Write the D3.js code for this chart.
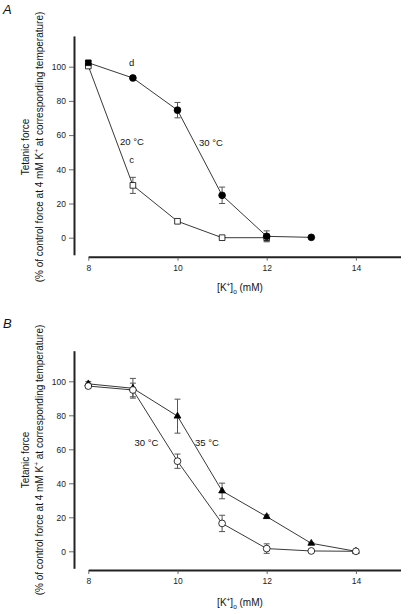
<!DOCTYPE html>
<html>
<head>
<meta charset="utf-8">
<script src="https://cdn.jsdelivr.net/npm/d3@7"></script>
<style>
html,body{margin:0;padding:0;background:#fff;}
svg{display:block;}
.tick text{font-family:"Liberation Sans Narrow","Arial Narrow","Liberation Sans",Arial,sans-serif;font-size:8.5px;fill:#222;}
</style>
</head>
<body>
<svg id="chart" width="409" height="614"></svg>
<script>
// ---- Data ----
const xTicks = [8, 10, 12, 14];
const yTicks = [0, 20, 40, 60, 80, 100];

// Panel A
const kA30 = [8, 9, 10, 11, 12, 13];
const forceA30 = [102.3, 93.4, 74.6, 24.8, 0.8, 0.2];
const errA30 = [1, 0, 4.5, 4.8, 3.2, 0];
const symA30 = ["square", "circle", "circle", "circle", "circle", "circle"];
const kA20 = [8, 9, 10, 11, 12];
const forceA20 = [100.4, 30.6, 9.6, 0, 0];
const errA20 = [0, 4.7, 0, 0, 2];

// Panel B
const kB = [8, 9, 10, 11, 12, 13, 14];
const forceB35 = [98.5, 95.9, 79.5, 35.5, 20.4, 4.7, 0];
const errB35 = [1.3, 5.8, 10, 4.6, 1, 0.5, 0];
const forceB30 = [97.2, 94.9, 53, 16.4, 1.6, 0.2, 0];
const errB30 = [1, 4, 4.2, 4.8, 2.8, 0, 0];

const yTitle1 = "Tetanic force";
const xTitleMain = "[K";
const panels = [
  {
    letter: "A", letterY: 14, top: 36.3, zeroY: 237.7, bottom: 254.8, xAxisY: 256.7,
    series: [
      {k: kA20, v: forceA20, e: errA20, sym: kA20.map(() => "square"), fill: "#fff"},
      {k: kA30, v: forceA30, e: errA30, sym: symA30, fill: "#000"}
    ],
    notes: [
      {t: "d", x: 131.7, y: 66},
      {t: "20 °C", x: 132, y: 145},
      {t: "c", x: 131.7, y: 163},
      {t: "30 °C", x: 211, y: 146}
    ],
    titleCY: 147, xTitleY: 291
  },
  {
    letter: "B", letterY: 328, top: 350.7, zeroY: 551.3, bottom: 568.3, xAxisY: 570,
    series: [
      {k: kB, v: forceB35, e: errB35, sym: kB.map(() => "triangle"), fill: "#000"},
      {k: kB, v: forceB30, e: errB30, sym: kB.map(() => "circle"), fill: "#fff"}
    ],
    notes: [
      {t: "30 °C", x: 146.5, y: 446},
      {t: "35 °C", x: 207, y: 446}
    ],
    titleCY: 460, xTitleY: 606
  }
];

const svg = d3.select("#chart");
const sans = "'Liberation Sans', Arial, sans-serif";
const narrow = "'Liberation Sans Narrow','Arial Narrow','Liberation Sans',Arial,sans-serif";

panels.forEach(p => {
  const g = svg.append("g");
  const pxPerUnit = (p.bottom - p.zeroY) / 10;
  const y = d3.scaleLinear().domain([-10, 118]).range([p.zeroY + 10 * pxPerUnit, p.zeroY - 118 * pxPerUnit]);
  const x = d3.scaleLinear().domain([8, 15]).range([88.3, 400.5]);

  // letter
  g.append("text").attr("x", 3).attr("y", p.letterY)
    .attr("font-family", sans).attr("font-style", "italic").attr("font-size", 13)
    .attr("fill", "#111").text(p.letter);

  // y axis
  const ya = g.append("g").attr("transform", "translate(74,0)")
    .call(d3.axisLeft(y).tickValues(yTicks).tickFormat(d3.format("d")).tickSize(5).tickSizeOuter(0).tickPadding(3));
  ya.select(".domain").attr("stroke", "#222").attr("stroke-width", 2);
  ya.selectAll(".tick line").attr("stroke", "#444").attr("stroke-width", 0.8);

  // x axis
  const xa = g.append("g").attr("transform", `translate(0,${p.xAxisY})`)
    .call(d3.axisBottom(x).tickValues(xTicks).tickFormat(d3.format("d")).tickSize(4).tickSizeOuter(0).tickPadding(4));
  xa.select(".domain").attr("stroke", "#222").attr("stroke-width", 2);
  xa.selectAll(".tick line").attr("stroke", "#444").attr("stroke-width", 0.8);

  // y title
  const tg = g.append("g").attr("transform", `translate(0,${p.titleCY}) rotate(-90)`);
  tg.append("text").attr("x", 0).attr("y", 29).attr("text-anchor", "middle")
    .attr("font-family", sans).attr("font-size", 10).attr("fill", "#111").text(yTitle1);
  const t2 = tg.append("text").attr("x", 0).attr("y", 43).attr("text-anchor", "middle")
    .attr("font-family", sans).attr("font-size", 10).attr("fill", "#111");
  t2.append("tspan").text("(% of control force at 4 mM K");
  t2.append("tspan").attr("dy", -4).attr("font-size", 6.5).text("+");
  t2.append("tspan").attr("dy", 4).text(" at corresponding temperature)");

  // x title
  const xt = g.append("text").attr("x", 240).attr("y", p.xTitleY).attr("text-anchor", "middle")
    .attr("font-family", narrow).attr("font-size", 10).attr("fill", "#111");
  xt.append("tspan").text(xTitleMain);
  xt.append("tspan").attr("dy", -4).attr("font-size", 6.5).text("+");
  xt.append("tspan").attr("dy", 4).text("]");
  xt.append("tspan").attr("dy", 2.5).attr("font-size", 6.5).text("o");
  xt.append("tspan").attr("dy", -2.5).text(" (mM)");

  // series
  p.series.forEach(s => {
    const pts = s.k.map((k, i) => ({k, v: s.v[i], e: s.e[i], sym: s.sym[i]}));
    g.append("path").datum(pts)
      .attr("d", d3.line().x(d => x(d.k)).y(d => y(d.v)))
      .attr("fill", "none").attr("stroke", "#222").attr("stroke-width", 0.9);
    // error bars
    pts.filter(d => d.e > 0).forEach(d => {
      const cx = x(d.k), y1 = y(d.v + d.e), y2 = y(d.v - d.e);
      g.append("line").attr("x1", cx).attr("x2", cx).attr("y1", y1).attr("y2", y2)
        .attr("stroke", "#555").attr("stroke-width", 1);
      [y1, y2].forEach(yy => g.append("line").attr("x1", cx - 3).attr("x2", cx + 3)
        .attr("y1", yy).attr("y2", yy).attr("stroke", "#555").attr("stroke-width", 1));
    });
  });
  p.series.forEach(s => {
    s.k.forEach((k, i) => {
      const cx = x(k), cy = y(s.v[i]);
      const shape = s.sym[i];
      const sizes = {circle: 36, square: 32, triangle: 20};
      const types = {circle: d3.symbolCircle, square: d3.symbolSquare, triangle: d3.symbolTriangle};
      g.append("path").attr("transform", `translate(${cx},${cy})`)
        .attr("d", d3.symbol().type(types[shape]).size(sizes[shape])())
        .attr("fill", s.fill).attr("stroke", "#000").attr("stroke-width", 0.8);
    });
  });

  // annotations
  p.notes.forEach(n => g.append("text").attr("x", n.x).attr("y", n.y).attr("text-anchor", "middle")
    .attr("font-family", narrow).attr("font-size", 9.5).attr("fill", "#111").text(n.t));
});
</script>
</body>
</html>
